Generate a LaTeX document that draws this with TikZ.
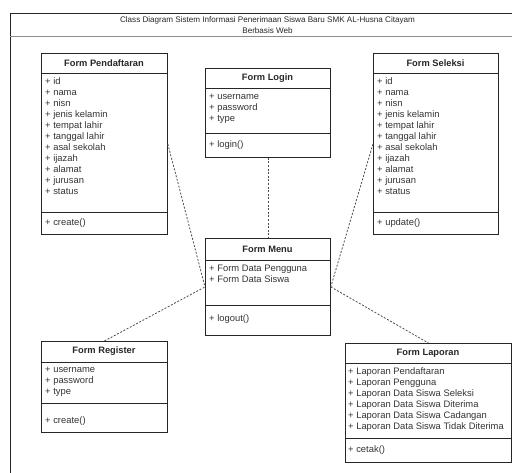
\documentclass[tikz,border=0pt]{standalone}
\usepackage{fontspec}
\setmainfont{Liberation Sans}
\usetikzlibrary{positioning}

\tikzset{
  cls/.style={shape=rectangle, draw=black!85, line width=0.8pt, inner sep=0pt, anchor=north west},
  sep/.style={draw=black!85, line width=0.8pt},
  head/.style={font=\bfseries\fontsize{9.3}{11}\selectfont, inner sep=0pt, text=black!85},
  list/.style={anchor=north west, align=left, inner sep=0pt, text=black!80, font=\fontsize{9.4}{11}\selectfont},
  link/.style={draw=black!70, line width=0.8pt, dash pattern=on 2pt off 1.6pt}
}

\begin{document}
\begin{tikzpicture}[x=1pt, y=1pt]
\useasboundingbox (0,0) rectangle (512,-473);
% frame and title
\draw[line width=0.8pt, black!85] (530,-13) -- (10,-13) -- (10,-490);
\draw[line width=0.8pt, black!45] (10,-36) -- (530,-36);
\node[align=center, inner sep=0pt, text=black!85, font=\fontsize{8.1}{10.5}\selectfont] (title) at (267.5,-25) {Class Diagram Sistem Informasi Penerimaan Siswa Baru SMK AL-Husna Citayam\\Berbasis Web};

% Form Pendaftaran
\node[cls, minimum width=126pt, minimum height=181pt] (pend) at (41,-53) {};
\draw[sep] (41,-73) -- (167,-73);
\draw[sep] (41,-212) -- (167,-212);
\node[head] (pendH) at (104,-63) {Form Pendaftaran};
\node[list] (pendA) at (45,-77.5) {+ id\\+ nama\\+ nisn\\+ jenis kelamin\\+ tempat lahir\\+ tanggal lahir\\+ asal sekolah\\+ ijazah\\+ alamat\\+ jurusan\\+ status};
\node[list, anchor=west] (pendM) at (45,-223) {+ create()};

% Form Login
\node[cls, minimum width=125pt, minimum height=89pt] (login) at (205,-68) {};
\draw[sep] (205,-88) -- (330,-88);
\draw[sep] (205,-133) -- (330,-133);
\node[head] (loginH) at (267.5,-78) {Form Login};
\node[list] (loginA) at (209,-93.5) {+ username\\+ password\\+ type};
\node[list, anchor=west] (loginM) at (209,-145) {+ login()};

% Form Seleksi
\node[cls, minimum width=125pt, minimum height=181pt] (sel) at (373,-53) {};
\draw[sep] (373,-73) -- (498,-73);
\draw[sep] (373,-212) -- (498,-212);
\node[head] (selH) at (435.5,-63) {Form Seleksi};
\node[list] (selA) at (377,-77.5) {+ id\\+ nama\\+ nisn\\+ jenis kelamin\\+ tempat lahir\\+ tanggal lahir\\+ asal sekolah\\+ ijazah\\+ alamat\\+ jurusan\\+ status};
\node[list, anchor=west] (selM) at (377,-223) {+ update()};

% Form Menu
\node[cls, minimum width=125pt, minimum height=97pt] (menu) at (205,-238) {};
\draw[sep] (205,-260) -- (330,-260);
\draw[sep] (205,-305) -- (330,-305);
\node[head] (menuH) at (267.5,-249) {Form Menu};
\node[list] (menuA) at (209,-265) {+ Form Data Pengguna\\+ Form Data Siswa};
\node[list, anchor=west] (menuM) at (209,-319) {+ logout()};

% Form Register
\node[cls, minimum width=126pt, minimum height=91pt] (reg) at (41,-341) {};
\draw[sep] (41,-362) -- (167,-362);
\draw[sep] (41,-403) -- (167,-403);
\node[head] (regH) at (104,-351.5) {Form Register};
\node[list] (regA) at (45,-367) {+ username\\+ password\\+ type};
\node[list, anchor=west] (regM) at (45,-421) {+ create()};

% Form Laporan
\node[cls, minimum width=166pt, minimum height=119pt] (lap) at (345,-343) {};
\draw[sep] (345,-363) -- (511,-363);
\draw[sep] (345,-438) -- (511,-438);
\node[head] (lapH) at (428,-353) {Form Laporan};
\node[list] (lapA) at (348,-367.5) {+ Laporan Pendaftaran\\+ Laporan Pengguna\\+ Laporan Data Siswa Seleksi\\+ Laporan Data Siswa Diterima\\+ Laporan Data Siswa Cadangan\\+ Laporan Data Siswa Tidak Diterima};
\node[list, anchor=west] (lapM) at (348,-450) {+ cetak()};

% connectors
\draw[link] (pend.east) -- (menu.west);
\draw[link] (reg.north) -- (menu.west);
\draw[link] (login.south) -- (menu.north);
\draw[link] (sel.west) -- (menu.east);
\draw[link] (menu.east) -- (lap.north);
\end{tikzpicture}
\end{document}
